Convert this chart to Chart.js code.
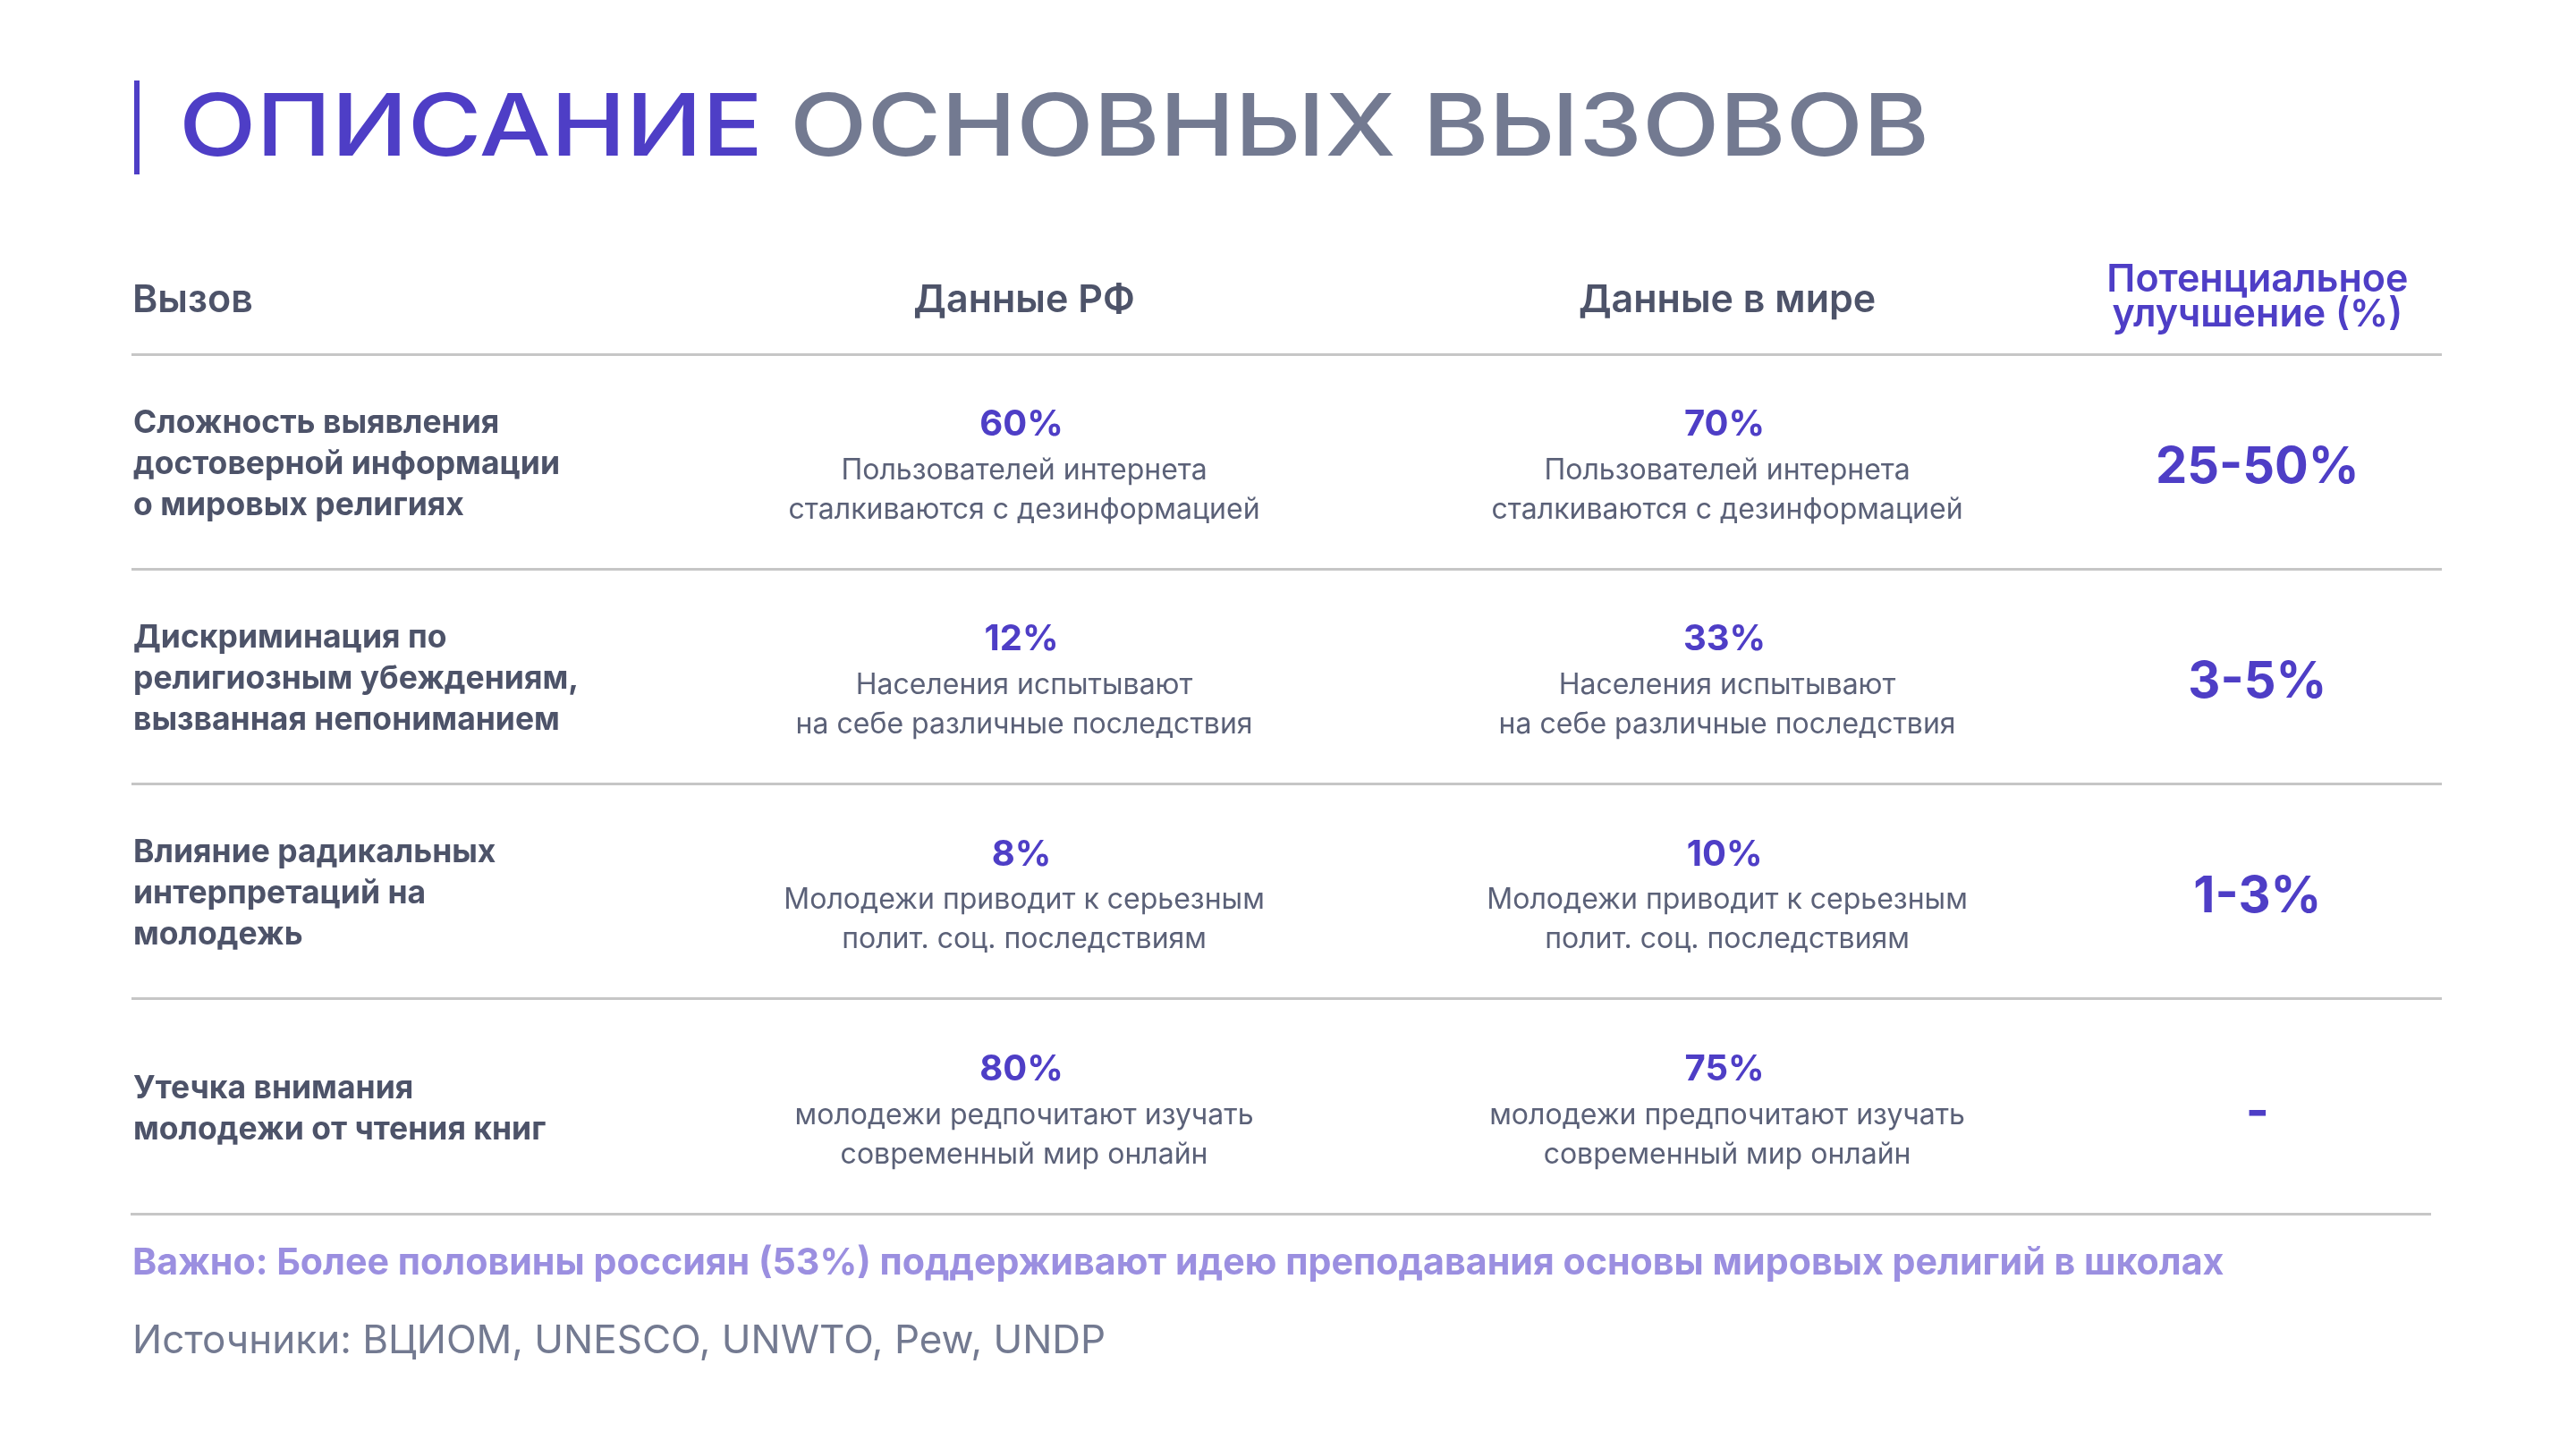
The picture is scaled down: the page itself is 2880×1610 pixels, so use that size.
<!DOCTYPE html>
<html><head><meta charset="utf-8">
<script src="https://cdn.jsdelivr.net/npm/chart.js@4.4.1/dist/chart.umd.min.js"></script>
<style>html,body{margin:0;padding:0;background:#fff;overflow:hidden}canvas{display:block}</style>
</head><body>
<canvas id="c" width="2880" height="1610" style="width:2880px;height:1610px"></canvas>
<script>
// ---- data ----
const titleAccent = 'ОПИСАНИЕ';
const titleRest = 'ОСНОВНЫХ ВЫЗОВОВ';
const headers = ['Вызов', 'Данные РФ', 'Данные в мире', ['Потенциальное', 'улучшение (%)']];
const challenges = [
  ['Сложность выявления', 'достоверной информации', 'о мировых религиях'],
  ['Дискриминация по', 'религиозным убеждениям,', 'вызванная непониманием'],
  ['Влияние радикальных', 'интерпретаций на', 'молодежь'],
  ['Утечка внимания', 'молодежи от чтения книг']
];
const rfValues = [60, 12, 8, 80];
const rfNotes = [
  ['Пользователей интернета', 'сталкиваются с дезинформацией'],
  ['Населения испытывают', 'на себе различные последствия'],
  ['Молодежи приводит к серьезным', 'полит. соц. последствиям'],
  ['молодежи редпочитают изучать', 'современный мир онлайн']
];
const worldValues = [70, 33, 10, 75];
const worldNotes = [
  ['Пользователей интернета', 'сталкиваются с дезинформацией'],
  ['Населения испытывают', 'на себе различные последствия'],
  ['Молодежи приводит к серьезным', 'полит. соц. последствиям'],
  ['молодежи предпочитают изучать', 'современный мир онлайн']
];
const improvements = ['25-50%', '3-5%', '1-3%', '-'];
const noteText = 'Важно: Более половины россиян (53%) поддерживают идею преподавания основы мировых религий в школах';
const sourcesText = 'Источники: ВЦИОМ, UNESCO, UNWTO, Pew, UNDP';

// ---- styles ----
const PURPLE = '#4e3ec6';
const GRAY = '#737a91';
const DARK = '#4d5369';
const DESC = '#5b6178';
const NOTE = '#9b8fe0';
const LINE = '#c6c6c6';
const FONT = 'Inter, "Noto Sans", sans-serif';

function lines(ctx, arr, x, yc, lh) {
  const n = arr.length;
  arr.forEach((t, k) => ctx.fillText(t, x, yc + (k - (n - 1) / 2) * lh));
}

const tablePlugin = {
  id: 'tableText',
  beforeDraw(chart) {
    const ctx = chart.ctx;
    ctx.save();
    ctx.fillStyle = '#ffffff';
    ctx.fillRect(0, 0, chart.width, chart.height);
    ctx.restore();
  },
  afterDraw(chart, args, opts) {
    const ctx = chart.ctx;
    const a = chart.chartArea;
    const y = chart.scales.y;
    const W = a.right - a.left;
    const colX = opts.columns.map(f => a.left + f * W);
    ctx.save();
    ctx.textBaseline = 'middle';

    // bottom rule (slightly shorter than the others)
    ctx.strokeStyle = LINE;
    ctx.lineWidth = 3;
    ctx.beginPath();
    ctx.moveTo(a.left - 1, a.bottom + 0.5);
    ctx.lineTo(a.right - 12, a.bottom + 0.5);
    ctx.stroke();

    // Title with accent bar
    ctx.fillStyle = PURPLE;
    ctx.fillRect(a.left + 3, a.top - 306, 6, 105);
    ctx.font = '500 96px ' + FONT;
    const full = titleAccent + ' ' + titleRest;
    const wFull = ctx.measureText(full).width;
    const sx = opts.titleWidth / wFull;
    ctx.save();
    ctx.translate(a.left + 53, a.top - 251);
    ctx.scale(sx, 1);
    ctx.textAlign = 'left';
    ctx.fillStyle = PURPLE;
    ctx.fillText(titleAccent + ' ', 0, 0);
    const wA = ctx.measureText(titleAccent + ' ').width;
    ctx.fillStyle = GRAY;
    ctx.fillText(titleRest, wA, 0);
    ctx.restore();

    // Header
    ctx.font = '600 43px ' + FONT;
    ctx.fillStyle = DARK;
    ctx.textAlign = 'left';
    ctx.fillText(headers[0], a.left + 1, a.top - 60);
    ctx.textAlign = 'center';
    ctx.fillText(headers[1], colX[1], a.top - 60);
    ctx.fillText(headers[2], colX[2], a.top - 60);
    ctx.fillStyle = PURPLE;
    lines(ctx, headers[3], colX[3], a.top - 63, 39);

    // Rows
    challenges.forEach((lab, i) => {
      const yc = y.getPixelForValue(i);
      ctx.textAlign = 'left';
      ctx.fillStyle = DARK;
      ctx.font = '700 35.5px ' + FONT;
      lines(ctx, lab, a.left + 2, yc + 3, 46);

      ctx.textAlign = 'center';
      [[rfValues, rfNotes, colX[1]], [worldValues, worldNotes, colX[2]]].forEach(([vals, notes, cx]) => {
        ctx.fillStyle = PURPLE;
        ctx.font = '700 40px ' + FONT;
        ctx.fillText(vals[i] + '%', cx - 3, yc - 41);
        ctx.fillStyle = DESC;
        ctx.font = '400 32px ' + FONT;
        lines(ctx, notes[i], cx, yc + 32, 44);
      });

      ctx.fillStyle = PURPLE;
      ctx.font = '700 56px ' + FONT;
      ctx.fillText(improvements[i], colX[3], yc + 7);
    });

    // Footer
    ctx.textAlign = 'left';
    ctx.fillStyle = NOTE;
    ctx.font = '700 41.2px ' + FONT;
    ctx.fillText(noteText, a.left + 1, a.bottom + 56);
    ctx.fillStyle = GRAY;
    ctx.font = '400 44px ' + FONT;
    ctx.fillText(sourcesText, a.left + 1, a.bottom + 143);
    ctx.restore();
  }
};

function build() {
  new Chart(document.getElementById('c'), {
    type: 'bar',
    data: {
      labels: challenges.map(c => c.join(' ')),
      datasets: [
        { label: headers[1], data: rfValues, backgroundColor: 'rgba(0,0,0,0)', borderWidth: 0 },
        { label: headers[2], data: worldValues, backgroundColor: 'rgba(0,0,0,0)', borderWidth: 0 }
      ]
    },
    options: {
      indexAxis: 'y',
      responsive: false,
      animation: false,
      devicePixelRatio: 1,
      events: [],
      layout: { padding: { left: 147, right: 150, top: 396, bottom: 253 } },
      plugins: {
        legend: { display: false },
        tooltip: { enabled: false },
        title: { display: false },
        tableText: { columns: [0, 0.3864, 0.6907, 0.9202], titleWidth: 1957 }
      },
      scales: {
        x: { display: false, min: 0, max: 100 },
        y: {
          type: 'category',
          offset: true,
          ticks: { display: false },
          border: { display: false },
          grid: {
            color: c => (c.type === 'tick' ? LINE : 'rgba(0,0,0,0)'),
            lineWidth: 3, drawTicks: false, offset: true
          },
          afterFit(s) { s.width = 0; }
        }
      }
    },
    plugins: [tablePlugin]
  });
}

const fl = ['400', '500', '600', '700'].map(w => document.fonts.load(w + ' 40px Inter', 'АБВабв'));
Promise.all(fl).then(build, build);
</script>
</body></html>
